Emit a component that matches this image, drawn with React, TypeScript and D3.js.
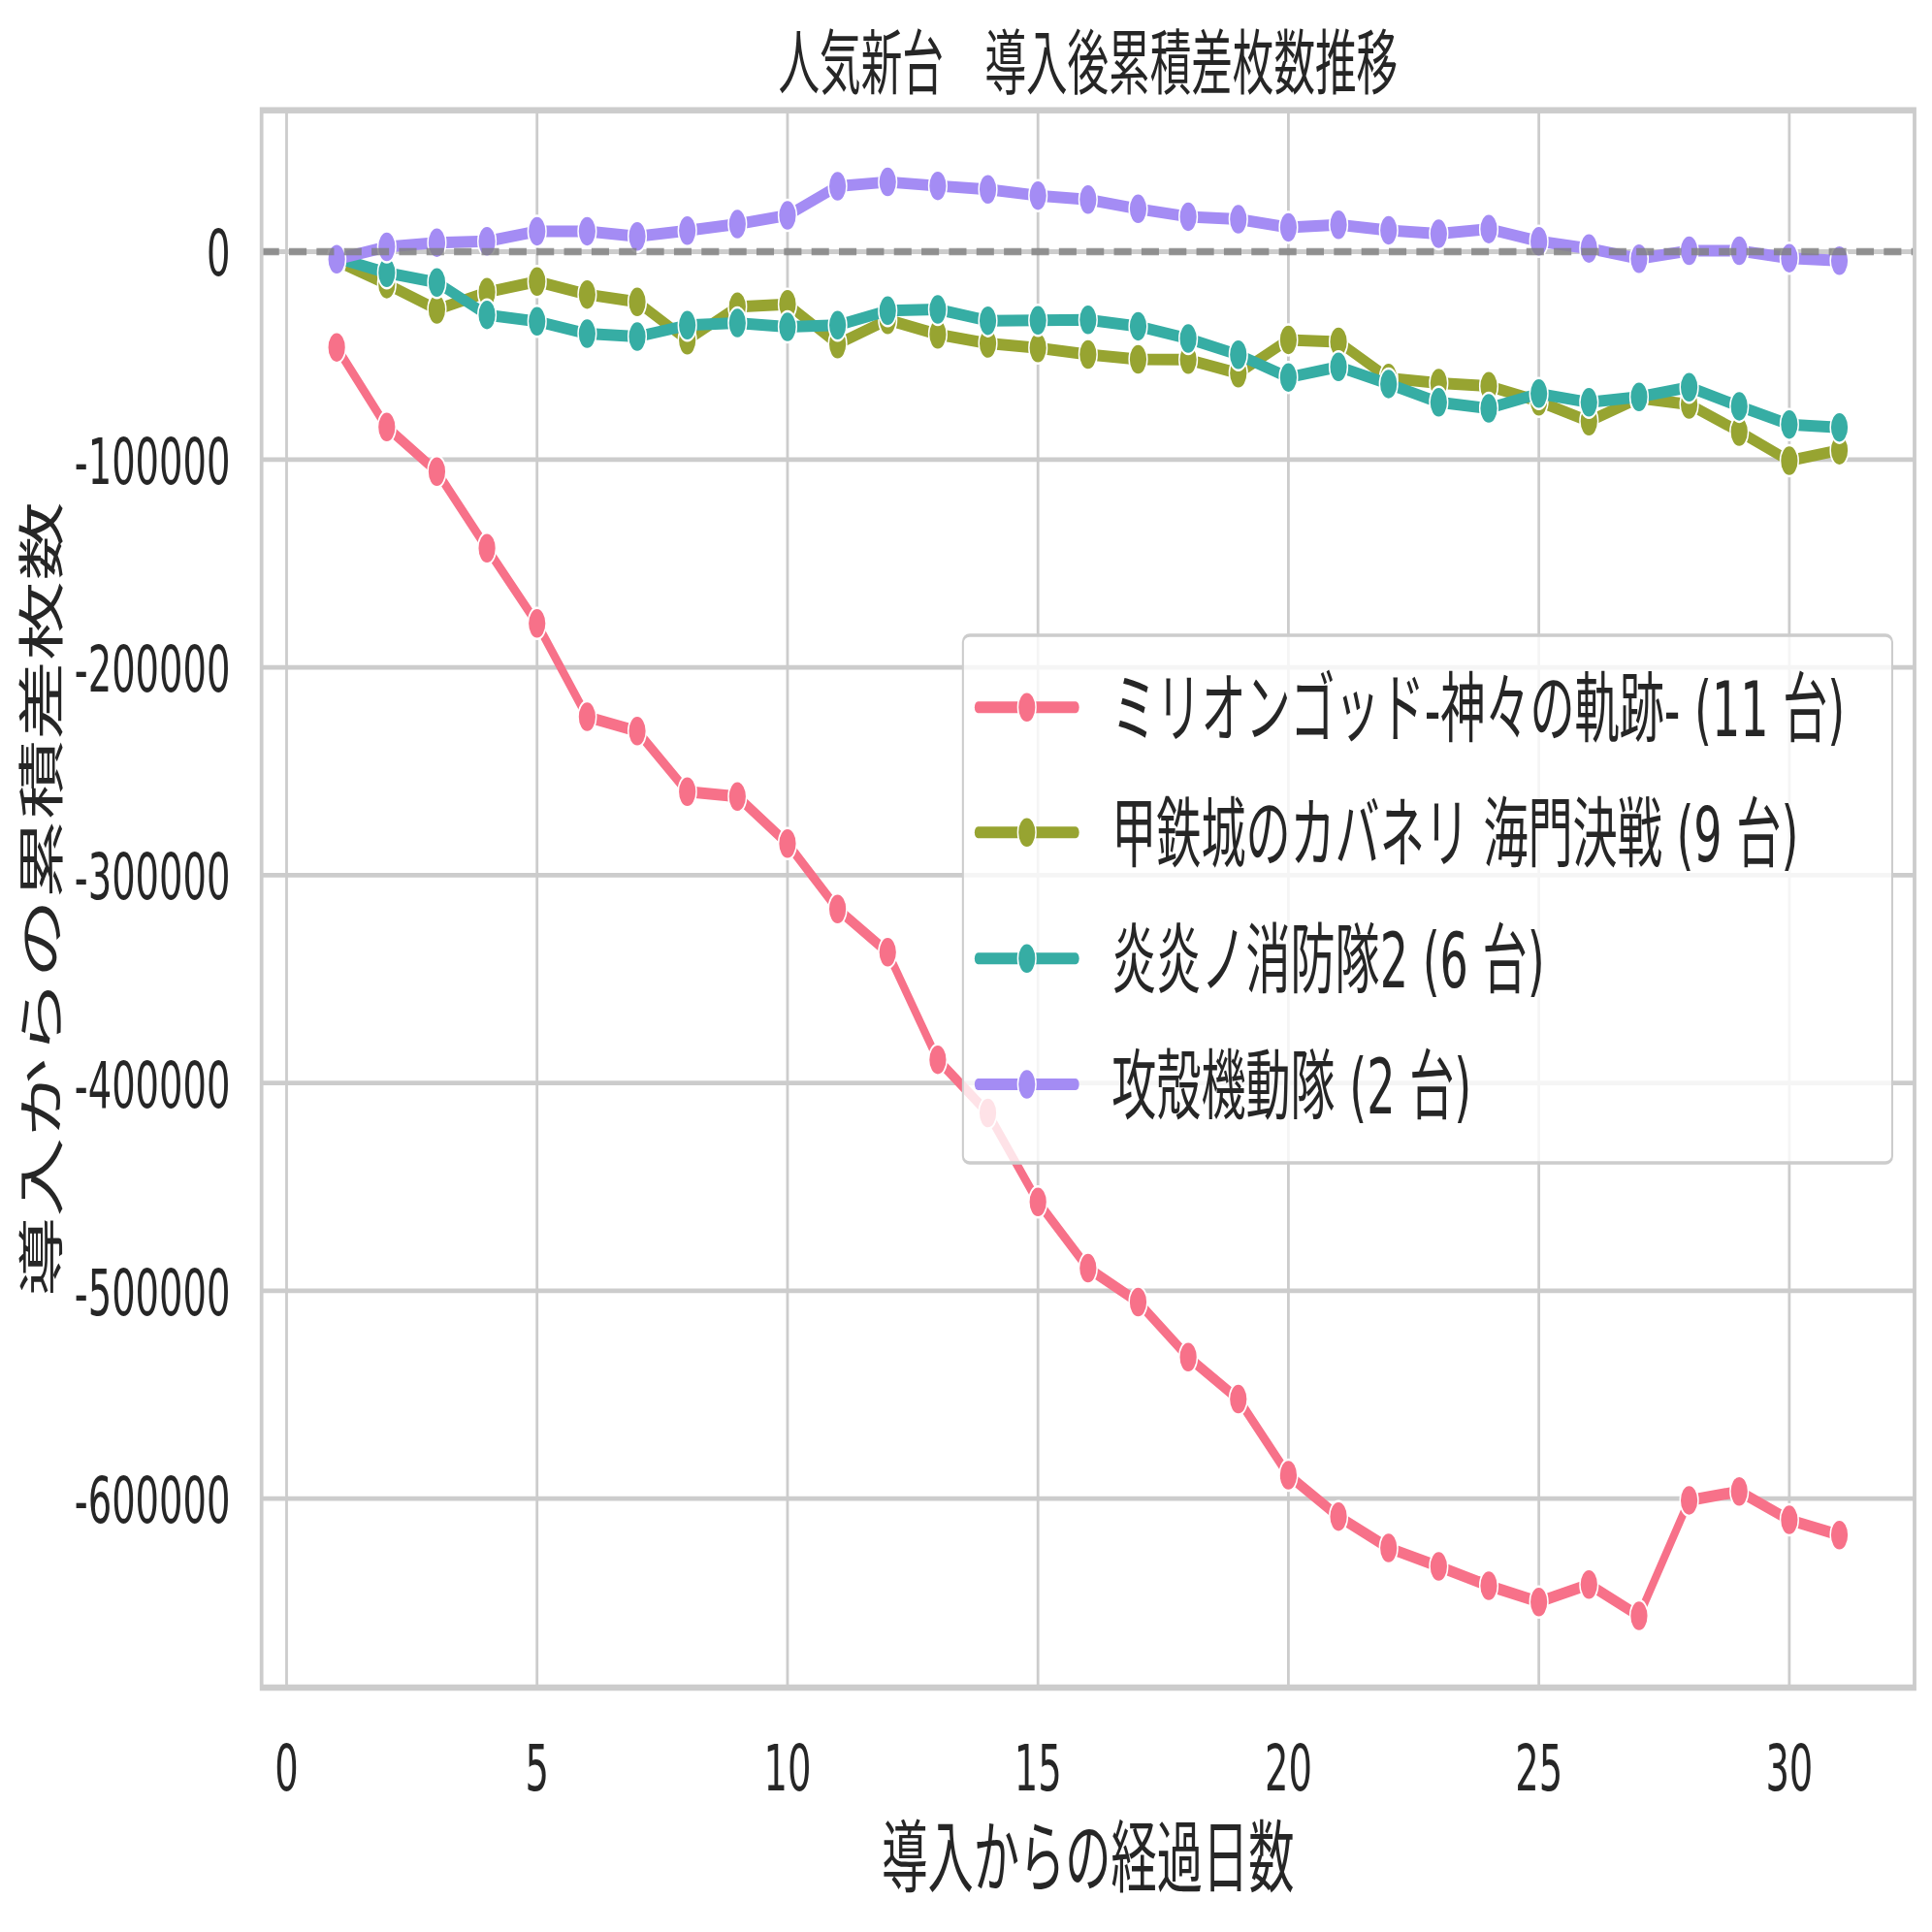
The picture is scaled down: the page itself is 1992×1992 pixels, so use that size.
import React from "react";
import * as d3 from "d3";

// days since introduction
const days = [1, 2, 3, 4, 5, 6, 7, 8, 9, 10, 11, 12, 13, 14, 15, 16, 17, 18, 19, 20, 21, 22, 23, 24, 25, 26, 27, 28, 29, 30, 31];

const seriesNames = [
  "ミリオンゴッド-神々の軌跡- (11 台)",
  "甲鉄城のカバネリ 海門決戦 (9 台)",
  "炎炎ノ消防隊2 (6 台)",
  "攻殻機動隊 (2 台)",
];

const millionGod = [
  -46050, -84400, -105800, -142700, -178900, -223800, -230700, -259800, -262200, -284800,
  -316300, -337100, -388800, -414400, -457200, -489100, -505400, -531900, -552100, -588700,
  -608600, -623700, -632600, -641900, -649700, -641300, -656400, -600800, -596500, -610200, -617500,
];
const kabaneri = [
  -4500, -15600, -27800, -19500, -14350, -20600, -24200, -42600, -26500, -25300,
  -44460, -32800, -39800, -44150, -46300, -49450, -51800, -51950, -58500, -42430,
  -43370, -60840, -63200, -64700, -72000, -81600, -70500, -73500, -86600, -100600, -95500,
];
const enen = [
  -3000, -10140, -14800, -30400, -33540, -39470, -40870, -35400, -34320, -36200,
  -35400, -28400, -27800, -33200, -33070, -32760, -35900, -41800, -49600, -60500,
  -55400, -63650, -72500, -75350, -68300, -72500, -69900, -65200, -74400, -83150, -84550,
];
const gits = [
  -3600, 2340, 4370, 5000, 9830, 9830, 7330, 10140, 13260, 17470,
  31500, 33540, 31670, 30000, 27000, 25100, 20600, 16850, 15600, 11700,
  12950, 10300, 8600, 10900, 5000, 1560, -3430, 470, 470, -3120, -4370,
];

const palette = ["#f77189", "#97a431", "#36ada4", "#a48cf4"];
const xTicks = [0, 5, 10, 15, 20, 25, 30];
const yTicks = [0, -100000, -200000, -300000, -400000, -500000, -600000];

const FONT = "'DejaVu Sans', 'Noto Sans CJK JP', sans-serif";
const TEXT = "#262626";
const GRID = "#cccccc";

export default function App() {
  // the reference is a wide figure squeezed into a square, so draw wide and squash
  const K = 0.58333;
  const W = 1992 / K;
  const H = 1992;
  const left = 462.3;
  const right = 3384;
  const top = 113.7;
  const bottom = 1740;

  const series = [millionGod, kabaneri, enen, gits];
  const all = series.flat();
  const [lo, hi] = d3.extent(all) as [number, number];
  const pad = (hi - lo) * 0.05;
  const dpad = (days[days.length - 1] - days[0]) * 0.05;

  const x = d3.scaleLinear().domain([days[0] - dpad, days[days.length - 1] + dpad]).range([left, right]);
  const y = d3.scaleLinear().domain([lo - pad, hi + pad]).range([bottom, top]);

  const line = d3
    .line<number>()
    .x((_, i) => x(days[i]))
    .y((d) => y(d));

  const cx = (left + right) / 2;
  const cy = (top + bottom) / 2;

  // legend geometry
  const lgX0 = 1702;
  const lgX1 = 3344.6;
  const lgY0 = 655;
  const lgY1 = 1199;
  const rowY = [729.3, 858.3, 988.3, 1118];

  return (
    <svg
      width={1992}
      height={1992}
      viewBox={`0 0 ${W} ${H}`}
      preserveAspectRatio="none"
      style={{ position: "absolute", left: 0, top: 0, background: "#fff" }}
      fontFamily={FONT}
    >
      <rect x={0} y={0} width={W} height={H} fill="#fff" />

      {/* grid */}
      {xTicks.map((t) => (
        <line key={"gx" + t} x1={x(t)} x2={x(t)} y1={top} y2={bottom} stroke={GRID} strokeWidth={4.8} />
      ))}
      {yTicks.map((t) => (
        <line key={"gy" + t} x1={left} x2={right} y1={y(t)} y2={y(t)} stroke={GRID} strokeWidth={4.8} />
      ))}

      {/* series */}
      {series.map((s, si) => (
        <g key={"s" + si}>
          <path d={line(s) || ""} fill="none" stroke={palette[si]} strokeWidth={12} strokeLinecap="round" strokeLinejoin="round" />
          {s.map((v, i) => (
            <circle key={i} cx={x(days[i])} cy={y(v)} r={16} fill={palette[si]} stroke="#fff" strokeWidth={2.5} />
          ))}
        </g>
      ))}

      {/* zero line */}
      <line x1={left} x2={right} y1={y(0)} y2={y(0)} stroke="#808080" strokeOpacity={0.8} strokeWidth={7.3} strokeDasharray="31,17.6" />

      {/* spines */}
      <rect x={left} y={top} width={right - left} height={bottom - top} fill="none" stroke={GRID} strokeWidth={6.5} />

      {/* tick labels */}
      {xTicks.map((t) => (
        <text key={"tx" + t} x={x(t)} y={bottom + 106} textAnchor="middle" fontSize={66} fill={TEXT}>
          {t}
        </text>
      ))}
      {yTicks.map((t) => (
        <text key={"ty" + t} x={left - 55} y={y(t) + 25} textAnchor="end" fontSize={66} fill={TEXT}>
          {String(t)}
        </text>
      ))}

      {/* axis labels and title */}
      <text x={cx} y={1944} textAnchor="middle" fontSize={81} fill={TEXT}>
        導入からの経過日数
      </text>
      <text transform={`translate(103, ${cy}) rotate(-90)`} textAnchor="middle" fontSize={82} fill={TEXT}>
        導入からの累積差枚数
      </text>
      <text x={cx} y={91} textAnchor="middle" fontSize={73} fill={TEXT}>
        人気新台　導入後累積差枚数推移
      </text>

      {/* legend */}
      <rect
        x={lgX0}
        y={lgY0}
        width={lgX1 - lgX0}
        height={lgY1 - lgY0}
        rx={12}
        ry={7}
        fill="#fff"
        fillOpacity={0.8}
        stroke={GRID}
        strokeWidth={3.5}
      />
      {seriesNames.map((name, i) => (
        <g key={"lg" + i}>
          <line x1={1728.6} x2={1901.4} y1={rowY[i]} y2={rowY[i]} stroke={palette[i]} strokeWidth={12} strokeLinecap="round" />
          <circle cx={1815} cy={rowY[i]} r={16} fill={palette[i]} stroke="#fff" strokeWidth={2.5} />
          <text x={1965} y={rowY[i] + 30} fontSize={79} fill={TEXT}>
            {name}
          </text>
        </g>
      ))}
    </svg>
  );
}
